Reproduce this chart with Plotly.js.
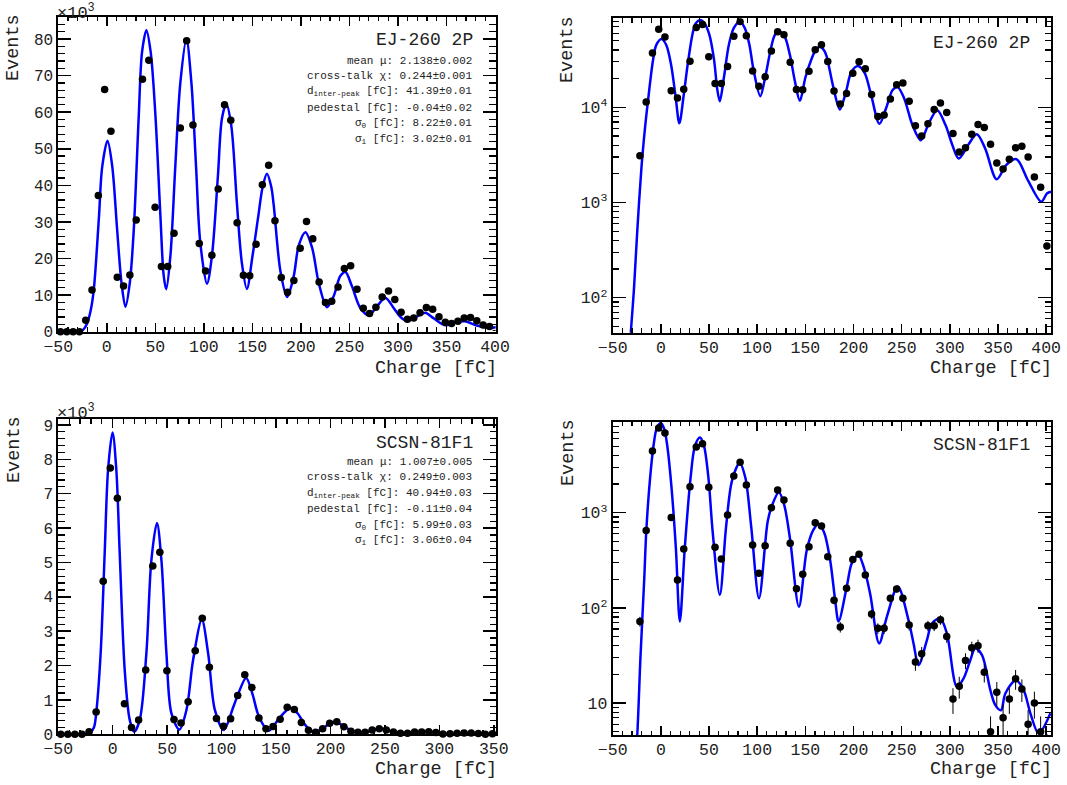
<!DOCTYPE html>
<html><head><meta charset="utf-8">
<script src="https://cdn.plot.ly/plotly-3.0.1.min.js"></script>
<style>html,body{margin:0;padding:0;background:#fff}#chart{width:1067px;height:785px}</style>
</head><body><div id="chart"></div>
<script>
// ---- data ----
const binCenters = [-47.75,-41.25,-34.75,-28.25,-21.75,-15.25,-8.75,-2.25,4.25,10.75,17.25,23.75,30.25,36.75,43.25,49.75,56.25,62.75,69.25,75.75,82.25,88.75,95.25,101.75,108.25,114.75,121.25,127.75,134.25,140.75,147.25,153.75,160.25,166.75,173.25,179.75,186.25,192.75,199.25,205.75,212.25,218.75,225.25,231.75,238.25,244.75,251.25,257.75,264.25,270.75,277.25,283.75,290.25,296.75,303.25,309.75,316.25,322.75,329.25,335.75,342.25,348.75,355.25,361.75,368.25,374.75,381.25,387.75,394.25,400.75];

const ejCounts = [0,0,0,0,3100,11400,37200,66200,54800,14900,12500,15500,30500,69000,74200,34000,17800,17800,26900,55700,79500,56500,24100,16600,20900,39000,62000,57800,29800,15400,15300,23900,40200,45500,30300,14800,10800,14000,22800,30100,25400,13600,8000,8300,12200,17300,18000,11600,6400,5000,6700,9500,11100,8800,5300,3400,3750,5200,6600,6150,4100,2600,2250,2850,3750,3900,3000,1850,1450,350];

const scsnCounts = [0,0,0,0,72,650,4450,7750,6870,890,196,416,1870,4900,5300,1850,433,327,946,2430,3380,1950,458,231,450,1130,1730,1360,477,159,225,439,785,725,345,120,63,161,323,365,222,86,61,61,126,158,126,66,27,33,65,65,75,50,11,15,28,38,40,21,5,13,7,11,18,14,6,10,5,3];

const ejFitX = [-50,-40,-34,-31,-28,-24.5,-20.2,-16.5,-13.4,-8.2,-4.8,0.7,5.5,10.6,15.1,19.2,23.7,27.8,32.9,36.3,40.8,45.2,50.1,55.2,58.6,61.2,65.5,70.6,75.8,82.0,87.1,91.9,96.3,103.2,108.3,114.5,118.6,123.1,128.2,134.0,139.1,144.3,150.1,156.3,160.5,165.0,169.5,172.0,178.9,185.8,192.6,197.7,204.6,211.5,218.3,226.9,233.7,240.6,245.8,252.6,261.2,269.8,278.4,286.9,295.5,302.3,309.2,319.5,328.0,336.6,348.6,358.9,369.2,381.2,394.9,401.0,405.0];
const ejFitY = [0.01,1,15,46,120,500,2300,6000,11600,31000,45000,52200,45400,28000,13400,6800,13400,28000,59000,76400,82400,76400,59000,31700,15300,11600,20700,45400,68200,79900,68200,45400,24400,13100,20700,42700,58200,62300,56400,35300,18900,11700,20700,32000,39500,43200,39500,34500,16500,9500,15200,23500,27200,23000,13400,6700,9700,15200,16300,12400,6500,4500,6900,9300,6500,4100,2900,4100,5200,3700,1750,2500,2850,1700,1020,1250,1300];

const scsnFitX = [-50,-35,-28,-24.5,-21.2,-17.3,-15.1,-11.1,-7.4,-4.3,-0.2,3.3,6.4,11.0,15.6,19.7,24.8,30.9,35.5,40.6,44.7,49.3,53.9,61.2,67.7,73.8,81.8,87.6,93.8,101.9,110.9,115.5,122.5,128.1,134.2,143.3,151.5,158.3,163.7,169.5,175.7,180.9,184.5,193.0,198.2,205.0,211.0,217.3,226.6,234.6,246.0,257.1,262.3,267.5,276.2,281.4,290.0,296.9,307.3,314.2,321.2,326.4,333.4,342.0,347.2,353.1,357.6,368.7,376.6,383.6,392.2,404.4];
const scsnFitY = [0.001,0.05,1.5,4.6,30,196,650,2360,5270,7690,8780,7690,5270,1870,420,72,420,2360,5070,6150,5070,2360,610,137,710,2160,3330,2360,710,126,810,1200,1640,1200,520,103,406,658,765,620,318,121,72,167,294,360,260,140,42.3,80.5,168,74,42.3,25,45.8,68.5,77.4,53.8,14.8,18.1,28.2,37.5,31.9,13.7,9.5,8.4,12.6,17.4,13.7,7.8,4.8,7.8];

const ejLabel = "EJ-260 2P";
const scsnLabel = "SCSN-81F1";
const ejStats = ["mean μ: 2.138±0.002","cross-talk χ: 0.244±0.001","d<sub>inter-peak</sub> [fC]: 41.39±0.01","pedestal [fC]: -0.04±0.02","σ<sub>0</sub> [fC]: 8.22±0.01","σ<sub>1</sub> [fC]: 3.02±0.01"];
const scsnStats = ["mean μ: 1.007±0.005","cross-talk χ: 0.249±0.003","d<sub>inter-peak</sub> [fC]: 40.94±0.03","pedestal [fC]: -0.11±0.04","σ<sub>0</sub> [fC]: 5.99±0.03","σ<sub>1</sub> [fC]: 3.06±0.04"];
const xTitle = "Charge [fC]";
const yTitle = "Events";
const linTopTicks = [0,10,20,30,40,50,60,70,80];
const linBotTicks = [0,1,2,3,4,5,6,7,8,9];

// ---- layout helpers ----
const W = 1067, H = 785;
const FONT = "Liberation Mono, Courier New, monospace";
const px = x => x / W;
const py = y => 1 - y / H;

function logMinor(lo, hi) {
  const v = [];
  for (let d = lo; d <= hi; d++) for (let m = 2; m <= 9; m++) v.push(m * Math.pow(10, d));
  return v;
}

function xAxis(dom, range, anchor) {
  return {
    domain: dom, range: range, anchor: anchor,
    showgrid: false, zeroline: false, showline: true, linecolor: 'black', linewidth: 2,
    mirror: 'allticks', ticks: 'inside', ticklen: 9, tickwidth: 1.5, tickcolor: 'black',
    tick0: 0, dtick: 50, ticklabelstandoff: -2,
    minor: {ticks: 'inside', ticklen: 4.5, tick0: 0, dtick: 10, tickcolor: 'black', tickwidth: 1.2, showgrid: false},
    tickfont: {family: FONT, size: 16.5, color: '#222'}, fixedrange: true
  };
}
function yLin(dom, range, anchor, vals, scale, minorStep) {
  return {
    domain: dom, range: range, anchor: anchor,
    showgrid: false, zeroline: false, showline: true, linecolor: 'black', linewidth: 2,
    mirror: 'allticks', ticks: 'inside', ticklen: 13, tickwidth: 1.5, tickcolor: 'black',
    tickmode: 'array', tickvals: vals.map(v => v * scale), ticktext: vals.map(v => String(v)),
    minor: {ticks: 'inside', ticklen: 6.5, tick0: 0, dtick: minorStep, tickcolor: 'black', tickwidth: 1.2, showgrid: false},
    tickfont: {family: FONT, size: 16, color: '#222'}, fixedrange: true
  };
}
function yLog(dom, range, anchor, vals, texts, minorVals) {
  return {
    type: 'log', domain: dom, range: range, anchor: anchor,
    showgrid: false, zeroline: false, showline: true, linecolor: 'black', linewidth: 2,
    mirror: 'allticks', ticks: 'inside', ticklen: 13, tickwidth: 1.5, tickcolor: 'black',
    tickmode: 'array', tickvals: vals, ticktext: texts,
    minor: {ticks: 'inside', ticklen: 6.5, tickmode: 'array', tickvals: minorVals, tickcolor: 'black', tickwidth: 1.2, showgrid: false},
    tickfont: {family: FONT, size: 16.5, color: '#222'}, fixedrange: true
  };
}

function dataTrace(x, y, xa, ya, clip) {
  return {
    type: 'scatter', mode: 'markers', x: x, y: y, xaxis: xa, yaxis: ya, cliponaxis: clip,
    marker: {color: 'black', size: 7.5},
    error_x: {type: 'constant', value: 3.25, width: 0, thickness: 1, color: 'black'},
    error_y: {type: 'sqrt', width: 0, thickness: 1, color: 'black'},
    hoverinfo: 'skip'
  };
}
function fitTrace(x, y, xa, ya) {
  return {
    type: 'scatter', mode: 'lines', x: x, y: y, xaxis: xa, yaxis: ya,
    line: {color: '#0000ff', width: 2.5, shape: 'spline', smoothing: 0.9},
    hoverinfo: 'skip'
  };
}

// bottom-left shows only up to 352 fC: keep markers inside the window
const blX = [], blY = [];
binCenters.forEach((c, i) => { if (c <= 352) { blX.push(c); blY.push(scsnCounts[i]); } });

const traces = [
  fitTrace(ejFitX, ejFitY, 'x', 'y'),
  dataTrace(binCenters, ejCounts, 'x', 'y', false),
  fitTrace(ejFitX, ejFitY, 'x2', 'y2'),
  dataTrace(binCenters, ejCounts, 'x2', 'y2', true),
  fitTrace(scsnFitX, scsnFitY, 'x3', 'y3'),
  dataTrace(blX, blY, 'x3', 'y3', false),
  fitTrace(scsnFitX, scsnFitY, 'x4', 'y4'),
  dataTrace(binCenters, scsnCounts, 'x4', 'y4', true)
];

function ann(text, x, y, opts) {
  return Object.assign({
    text: text, x: px(x), y: py(y), xref: 'paper', yref: 'paper', showarrow: false,
    xanchor: 'center', yanchor: 'middle', borderpad: 0,
    font: {family: FONT, size: 18, color: '#222'}
  }, opts || {});
}

const annotations = [];
// axis titles and multipliers
[[14, 48], [14, 450]].forEach(p => annotations.push(ann(yTitle, p[0], p[1], {textangle: -90, font: {family: FONT, size: 18.5, color: '#222'}})));
[[568, 50], [568, 453]].forEach(p => annotations.push(ann(yTitle, p[0], p[1], {textangle: -90, font: {family: FONT, size: 18.5, color: '#222'}})));
[[498, 368.5], [1053, 368.5], [498, 769.5], [1053, 769.5]].forEach(p => annotations.push(ann(xTitle, p[0], p[1], {xanchor: 'right', font: {family: FONT, size: 18.5, color: '#222'}})));
[[56, 12], [56, 412]].forEach(p => annotations.push(ann("×10<sup>3</sup>", p[0], p[1], {xanchor: 'left', font: {family: FONT, size: 17, color: '#222'}})));
// sample labels
annotations.push(ann(ejLabel, 474, 40, {xanchor: 'right'}));
annotations.push(ann(ejLabel, 1031, 43, {xanchor: 'right'}));
annotations.push(ann(scsnLabel, 474, 443, {xanchor: 'right'}));
annotations.push(ann(scsnLabel, 1031, 445, {xanchor: 'right'}));
// fit statistics
const ejStatY = [61, 76.5, 92, 108.3, 124, 140];
const scsnStatY = [461.7, 477, 493, 509, 525, 540.7];
ejStats.forEach((t, i) => annotations.push(ann(t, 473, ejStatY[i], {xanchor: 'right', font: {family: FONT, size: 11, color: '#222'}})));
scsnStats.forEach((t, i) => annotations.push(ann(t, 473, scsnStatY[i], {xanchor: 'right', font: {family: FONT, size: 11, color: '#222'}})));

const layout = {
  width: W, height: H, margin: {l: 0, r: 0, t: 0, b: 0},
  paper_bgcolor: 'white', plot_bgcolor: 'white', showlegend: false,
  font: {family: FONT, color: '#222'},
  xaxis:  xAxis([px(58.3), px(495.7)], [-50, 400.7], 'y'),
  yaxis:  yLin([py(331.7), py(16.7)], [0, 86100], 'x', linTopTicks, 1000, 2000),
  xaxis2: xAxis([px(612.7), px(1051)], [-50, 405], 'y2'),
  yaxis2: yLog([py(332.7), py(18.3)], [1.632, 4.935], 'x2', [100, 1000, 10000], ['10<sup>2</sup>', '10<sup>3</sup>', '10<sup>4</sup>'], logMinor(1, 4)),
  xaxis3: xAxis([px(58.3), px(496)], [-50, 352], 'y3'),
  yaxis3: yLin([py(734.3), py(419.3)], [0, 9166], 'x3', linBotTicks, 1000, 200),
  xaxis4: xAxis([px(612.7), px(1051)], [-50, 405], 'y4'),
  yaxis4: yLog([py(735), py(421.7)], [0.664, 3.956], 'x4', [10, 100, 1000], ['10', '10<sup>2</sup>', '10<sup>3</sup>'], logMinor(0, 3)),
  annotations: annotations
};

Plotly.newPlot('chart', traces, layout, {displayModeBar: false, staticPlot: true});
</script>
</body></html>
